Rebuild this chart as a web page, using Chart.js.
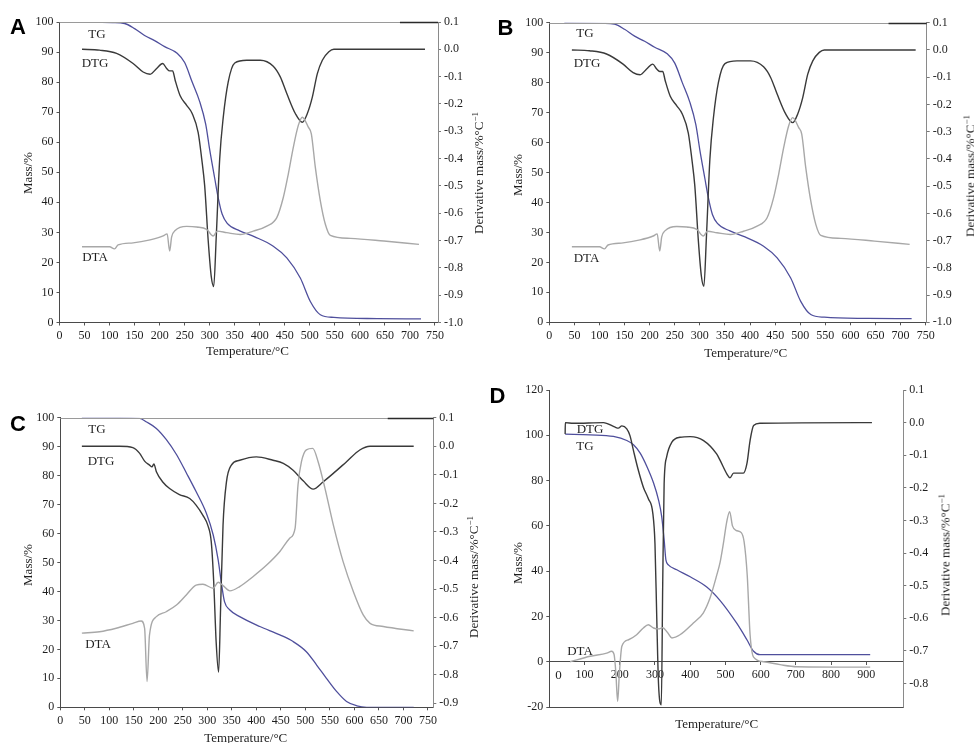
<!DOCTYPE html>
<html><head><meta charset="utf-8">
<script src="https://cdn.jsdelivr.net/npm/chart.js@4.4.0/dist/chart.umd.min.js"></script>
<style>
html,body{margin:0;padding:0;background:#fff;}
body{width:974px;height:743px;overflow:hidden;position:relative;}
canvas{position:absolute;}
.t{position:absolute;font-family:"Liberation Serif","Times New Roman",serif;font-size:13px;color:#1e1e1e;white-space:nowrap;line-height:1;transform:translate(-50%,-50%);}
.r{transform:translate(-50%,-50%) rotate(-90deg);}
.L{position:absolute;font-family:"Liberation Sans",Arial,sans-serif;font-weight:bold;font-size:22px;line-height:1;color:#000;transform:translate(-50%,-50%);}
.sup{font-size:9px;position:relative;top:-5px;}
</style></head>
<body>
<canvas id="cA" width="490" height="370" style="left:0;top:0"></canvas>
<canvas id="cB" width="484" height="370" style="left:490px;top:0"></canvas>
<canvas id="cC" width="490" height="368" style="left:0;top:375px"></canvas>
<canvas id="cD" width="484" height="368" style="left:490px;top:375px"></canvas>
<script>
// ---------------- DATA (temperature °C, value) ----------------
// Panels A and B (same sample curves)
const tgA = [[30,100],[106,99.8],[130,99.5],[150,97.8],[170,95.5],[190,93.8],[210,91.8],[235,89.6],[250,86.5],[265,80],[280,73.5],[292,66],[300,57.5],[310,48],[317,41.5],[325,36],[335,33],[360,30.5],[390,28.5],[427,25.4],[454,21.5],[481,14.8],[501,7],[521,2.6],[548,1.7],[635,1.3],[722,1.2]];
const dtgA = [[45,0.0],[80,-0.003],[114,-0.015],[147,-0.052],[167,-0.083],[181,-0.091],[194,-0.07],[206,-0.052],[214,-0.07],[220,-0.079],[226,-0.079],[231,-0.113],[241,-0.17],[254,-0.205],[265,-0.235],[277,-0.305],[284,-0.4],[290,-0.5],[297,-0.7],[303,-0.83],[308,-0.868],[313,-0.69],[320,-0.4],[327,-0.25],[337,-0.119],[350,-0.05],[374,-0.04],[401,-0.04],[427,-0.062],[441,-0.101],[454,-0.162],[471,-0.235],[485,-0.267],[495,-0.235],[505,-0.175],[515,-0.089],[525,-0.04],[538,-0.009],[548,0.0],[730,0.0]];
const dtaA = [[45,25.2],[100,25.2],[110,24.5],[117,25.8],[147,26.5],[181,27.5],[207,28.8],[215,29.5],[220,23.8],[224,28.5],[231,30.6],[254,32],[274,31.8],[294,31],[307,28.8],[315,30.4],[334,29.9],[361,29.3],[387,30.4],[414,32.1],[434,34.9],[447,41.6],[457,49.4],[467,58.3],[477,65.6],[485,68.3],[497,65],[503,62.8],[511,51.6],[521,40.5],[531,32.7],[541,29],[581,28],[648,27.1],[718,26]];
const tgB = tgA, dtgB = dtgA, dtaB = dtaA;
// Panel C
const tgC = [[44,100],[120,100],[162,99.8],[175,98.6],[196,96.3],[216,92.5],[237,87.3],[257,81],[277,74.5],[298,67],[312,59.5],[322,51],[329,42.5],[335,36.5],[346,33.6],[366,31.3],[407,27.9],[448,25],[475,22.7],[502,19.2],[523,14.6],[543,10],[564,5.4],[584,2],[605,0.5],[625,0],[721,0]];
const dtgC = [[44,0.0],[80,0.0],[121,0.0],[148,-0.005],[162,-0.025],[172,-0.052],[182,-0.066],[187,-0.072],[191,-0.062],[196,-0.089],[209,-0.125],[223,-0.148],[243,-0.169],[264,-0.183],[277,-0.206],[291,-0.242],[301,-0.277],[308,-0.335],[313,-0.475],[318,-0.686],[323,-0.791],[327,-0.569],[332,-0.277],[339,-0.125],[349,-0.066],[366,-0.049],[400,-0.037],[434,-0.049],[455,-0.06],[475,-0.084],[496,-0.122],[516,-0.15],[536,-0.125],[557,-0.095],[584,-0.054],[611,-0.013],[632,0.0],[721,0.0]];
const dtaC = [[44,25.6],[80,26.1],[114,27.3],[148,29],[165,29.8],[172,27.3],[177,8.9],[182,25],[196,31.3],[216,33],[237,35.3],[257,38.8],[277,42.2],[291,42.5],[312,41.1],[322,43.2],[332,42],[346,40.2],[366,41.7],[393,45.1],[421,49.1],[448,53.8],[468,58.4],[479,61.8],[485,76.8],[492,84.8],[502,88.9],[515,89.4],[526,84.8],[540,75.6],[557,63],[577,50.3],[598,39.9],[618,31.9],[632,29],[659,27.9],[721,26.4]];
// Panel D
const tgD = [[45,100.5],[116,100.2],[182,99.5],[220,97.7],[239,95.8],[258,92.1],[277,86.2],[296,78.9],[310,71.5],[319,64.2],[326,53.9],[331,45],[338,42.8],[362,40.6],[400,37.5],[447,33],[485,27],[532,17],[561,9.7],[580,4.6],[598,3.1],[911,3.1]];
const dtgD = [[45,-0.035],[45.5,0.0],[68,-0.002],[154,0.0],[187,-0.014],[196,-0.017],[206,-0.01],[220,-0.019],[229,-0.04],[239,-0.086],[253,-0.147],[267,-0.198],[281,-0.233],[294,-0.279],[300,-0.371],[305,-0.595],[310,-0.799],[318,-0.865],[322,-0.493],[326,-0.188],[333,-0.106],[348,-0.06],[371,-0.045],[400,-0.043],[438,-0.055],[475,-0.096],[485,-0.116],[504,-0.157],[513,-0.169],[523,-0.155],[537,-0.155],[551,-0.155],[561,-0.126],[570,-0.055],[580,-0.009],[598,-0.002],[916,0.0]];
const dtaD = [[59,0],[116,2.4],[163,3.8],[177,4.6],[184,3.1],[189,-5],[194,-17.5],[199,-5],[206,6.8],[225,9.7],[248,11.9],[267,14.9],[281,16.3],[296,14.9],[310,14.5],[322,15],[335,13],[348,10.5],[371,11.9],[409,17.1],[437,21.5],[456,28],[475,38],[485,44],[494,52],[504,62],[512,66.3],[520,60],[530,58],[545,57],[553,53],[562,38],[570,12],[580,2],[608,0],[655,-1.3],[703,-2.2],[911,-2.4]];

// Tick labels
const tempTicksABC = [0,50,100,150,200,250,300,350,400,450,500,550,600,650,700,750];
const tempTicksD = [0,100,200,300,400,500,600,700,800,900];
const massTicksABC = [0,10,20,30,40,50,60,70,80,90,100];
const massTicksD = [-20,0,20,40,60,80,100,120];
const derivTicksAB = [0.1,0,-0.1,-0.2,-0.3,-0.4,-0.5,-0.6,-0.7,-0.8,-0.9,-1.0];
const derivTicksC = [0.1,0,-0.1,-0.2,-0.3,-0.4,-0.5,-0.6,-0.7,-0.8,-0.9];
const derivTicksD = [0.1,0,-0.1,-0.2,-0.3,-0.4,-0.5,-0.6,-0.7,-0.8];

// ---------------- STYLE / LAYOUT ----------------
const COL_TG = '#4f4f9c', COL_DTG = '#3a3a3a', COL_DTA = '#a8a8a8';
const YW = 30, XH = 20;
Chart.defaults.font.family = '"Liberation Serif","Times New Roman",serif';

const framePlugin = {
  id: 'frame',
  afterDraw(chart, args, o) {
    const {ctx, chartArea: a, scales} = chart;
    ctx.save();
    ctx.lineWidth = 1;
    const ln = (x0, y0, x1, y1, c, w) => { ctx.strokeStyle = c; ctx.lineWidth = w || 1; ctx.beginPath(); ctx.moveTo(x0, y0); ctx.lineTo(x1, y1); ctx.stroke(); };
    const ty = Math.round(a.top) + 0.5, by = Math.round(a.bottom) + 0.5;
    if (o.top) ln(a.left, ty, a.right, ty, o.top);
    if (o.darkFrom != null) ln(scales.x.getPixelForValue(o.darkFrom), ty, a.right, ty, '#2a2a2a', 1.5);
    if (o.bottom) ln(a.left, by, a.right, by, o.bottom);
    ctx.restore();
  }
};

function pts(arr) { return arr.map(([x, y]) => ({x, y})); }
function fixed(list) { return s => { s.ticks = list.map(v => ({value: v})); }; }

function makeChart(id, box, area, cfg) {
  const axisInArea = cfg.xAtZero;
  const padding = {
    left: area.l - box.left - YW,
    right: box.left + box.w - area.r - YW,
    top: area.t - box.top,
    bottom: box.top + box.h - area.b - (axisInArea ? 0 : XH)
  };
  const tickFont = {size: 12, family: Chart.defaults.font.family};
  const ds = (data, color, axis, w) => ({data: pts(data), yAxisID: axis, borderColor: color, borderWidth: w, pointRadius: 0, fill: false, cubicInterpolationMode: 'monotone'});
  return new Chart(document.getElementById(id), {
    type: 'line',
    data: {datasets: [
      ds(cfg.dta, COL_DTA, 'y', 1.4),
      ds(cfg.dtg, COL_DTG, 'y2', 1.4),
      ds(cfg.tg, COL_TG, 'y', 1.3)
    ]},
    options: {
      responsive: false, animation: false, devicePixelRatio: 1,
      layout: {padding},
      plugins: {legend: {display: false}, tooltip: {enabled: false}, frame: cfg.frame},
      scales: {
        x: {
          type: 'linear', min: cfg.xMin, max: cfg.xMax,
          position: axisInArea ? {y: 0} : 'bottom',
          afterBuildTicks: fixed(cfg.xTicks),
          afterFit: s => { s.height = XH; },
          grid: {drawOnChartArea: false, drawTicks: true, tickLength: 3, color: '#555'},
          border: {color: '#4a4a4a', width: 1},
          ticks: {font: tickFont, color: '#1e1e1e', padding: 3, maxRotation: 0, autoSkip: false,
                  callback: v => (axisInArea && v === 0) ? '' : String(v)}
        },
        y: {
          type: 'linear', position: 'left', min: cfg.yMin, max: cfg.yMax,
          afterBuildTicks: fixed(cfg.yTicks),
          afterFit: s => { s.width = YW; },
          grid: {drawOnChartArea: false, drawTicks: true, tickLength: 3, color: '#555'},
          border: {color: '#4a4a4a', width: 1},
          ticks: {font: tickFont, color: '#1e1e1e', padding: 3, autoSkip: false, callback: v => String(v)}
        },
        y2: {
          type: 'linear', position: 'right', min: cfg.dMin, max: cfg.dMax,
          afterBuildTicks: fixed(cfg.dTicks),
          afterFit: s => { s.width = YW; },
          grid: {drawOnChartArea: false, drawTicks: true, tickLength: 3, color: '#777'},
          border: {color: '#8a8a8a', width: 1},
          ticks: {font: tickFont, color: '#1e1e1e', padding: 3, autoSkip: false,
                  callback: v => (Math.abs(v) < 1e-9 ? '0.0' : Number(v).toFixed(1))}
        }
      }
    },
    plugins: [framePlugin]
  });
}

makeChart('cA', {left: 0, top: 0, w: 490, h: 370}, {l: 59.5, t: 22, r: 438, b: 322.5}, {
  tg: tgA, dtg: dtgA, dta: dtaA, xMin: 0, xMax: 756, xTicks: tempTicksABC,
  yMin: 0, yMax: 100, yTicks: massTicksABC, dMin: -1.0, dMax: 0.1, dTicks: derivTicksAB,
  frame: {top: '#9a9a9a', darkFrom: 680}
});
makeChart('cB', {left: 490, top: 0, w: 484, h: 370}, {l: 549.3, t: 22.7, r: 926.7, b: 322.3}, {
  tg: tgB, dtg: dtgB, dta: dtaB, xMin: 0, xMax: 752, xTicks: tempTicksABC,
  yMin: 0, yMax: 100, yTicks: massTicksABC, dMin: -1.0, dMax: 0.1, dTicks: derivTicksAB,
  frame: {top: '#9a9a9a', darkFrom: 676}
});
makeChart('cC', {left: 0, top: 375, w: 490, h: 368}, {l: 60.3, t: 417.7, r: 433.3, b: 707.3}, {
  tg: tgC, dtg: dtgC, dta: dtaC, xMin: 0, xMax: 761, xTicks: tempTicksABC,
  yMin: 0, yMax: 100, yTicks: massTicksABC, dMin: -0.914, dMax: 0.1, dTicks: derivTicksC,
  frame: {top: '#9a9a9a', darkFrom: 668}
});
makeChart('cD', {left: 490, top: 375, w: 484, h: 368}, {l: 549.3, t: 390, r: 903.3, b: 707}, {
  tg: tgD, dtg: dtgD, dta: dtaD, xMin: 0, xMax: 1005, xTicks: tempTicksD, xAtZero: true,
  yMin: -20, yMax: 120, yTicks: massTicksD, dMin: -0.872, dMax: 0.1, dTicks: derivTicksD,
  frame: {bottom: '#4a4a4a'}
});

// ---------------- TEXT ----------------
const DER = 'Derivative mass/%°C<span class="sup">−1</span>';
const texts = [
  ['L', 'A', 18, 27], ['L', 'B', 505.5, 27.5], ['L', 'C', 18, 424], ['L', 'D', 497.5, 395.5],
  ['t', 'TG', 97, 33], ['t', 'DTG', 95, 62], ['t', 'DTA', 95, 255.5],
  ['t', 'TG', 585, 32], ['t', 'DTG', 587, 61.5], ['t', 'DTA', 586.5, 256.5],
  ['t', 'TG', 97, 428], ['t', 'DTG', 101, 460], ['t', 'DTA', 98, 643],
  ['t', 'DTG', 590, 428], ['t', 'TG', 585, 445], ['t', 'DTA', 580, 650],
  ['t', '0', 558.5, 673.5],
  ['t r', 'Mass/%', 26.7, 172.5], ['t r', 'Mass/%', 516.7, 175], ['t r', 'Mass/%', 26.7, 565], ['t r', 'Mass/%', 516.7, 562.5],
  ['t r', DER, 478, 173], ['t r', DER, 970, 176], ['t r', DER, 473, 576.7], ['t r', DER, 945, 555],
  ['t', 'Temperature/°C', 247.5, 350], ['t', 'Temperature/°C', 745.8, 351.7], ['t', 'Temperature/°C', 245.8, 737], ['t', 'Temperature/°C', 716.7, 723]
];
texts.forEach(([cls, txt, x, y]) => {
  const d = document.createElement('div');
  d.className = cls; d.innerHTML = txt;
  d.style.left = x + 'px'; d.style.top = y + 'px';
  document.body.appendChild(d);
});
</script>
</body></html>
